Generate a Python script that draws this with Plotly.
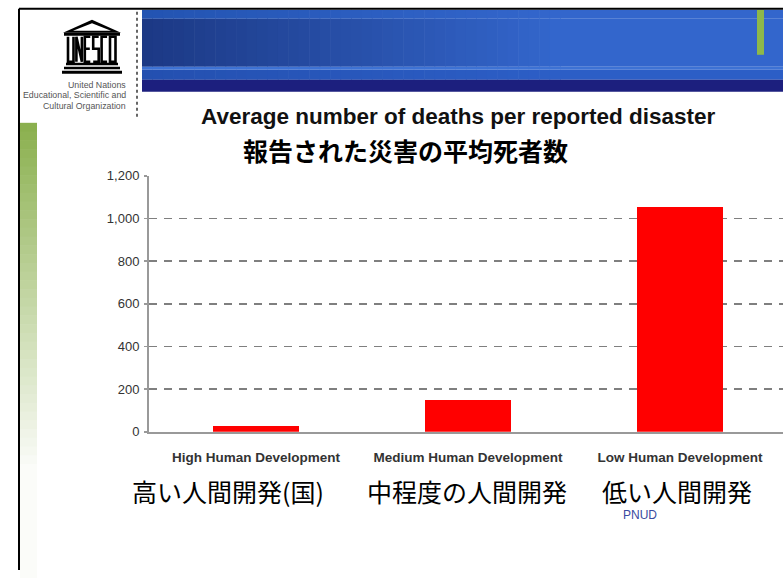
import plotly.graph_objects as go

W, H = 783, 578

# ---- data ----
categories_en = ["High Human Development", "Medium Human Development", "Low Human Development"]
categories_ja = ["高い人間開発(国)", "中程度の人間開発", "低い人間開発"]
avg_deaths = [28, 150, 1055]
y_ticks = [0, 200, 400, 600, 800, 1000, 1200]
title_en = "Average number of deaths per reported disaster"
title_ja = "報告された災害の平均死者数"
source_text = "PNUD"
org_lines = ["United Nations", "Educational, Scientific and", "Cultural Organization"]

# the photographed page appears as y_photo = SY * y_page + OY; place things in photo pixels
SY, OY = 0.974, 7.2


def X(px):
    return px / W


def Y(py):
    return 1 - ((py - OY) / SY) / H


def lerp_color(c1, c2, t):
    a = [int(c1[i:i + 2], 16) for i in (1, 3, 5)]
    b = [int(c2[i:i + 2], 16) for i in (1, 3, 5)]
    return "#%02x%02x%02x" % tuple(round(a[k] + (b[k] - a[k]) * t) for k in range(3))


shapes = []


def rect(x0, y0, x1, y1, color, layer="below"):
    shapes.append(dict(type="rect", xref="paper", yref="paper", x0=X(x0), x1=X(x1),
                       y0=Y(y1), y1=Y(y0), fillcolor=color, line=dict(width=0), layer=layer))


def hgrad(x0, x1, y0, y1, c1, c2, xend, n=40):
    step = (xend - x0) / n
    for i in range(n):
        rect(x0 + i * step, y0, x0 + (i + 1) * step + 0.6, y1, lerp_color(c1, c2, i / (n - 1)))
    rect(xend, y0, x1, y1, c2)


# banner
hgrad(142, W, 10, 19, "#2354b2", "#3366cc", 560)
hgrad(142, W, 19, 67, "#1c3985", "#3366cc", 560)
rect(142, 67, W, 70, "#3d72d4")
hgrad(142, W, 70, 80, "#2450b0", "#2c5ec6", 560)
rect(142, 80, W, 92, "#1c1f7e")
rect(757, 10, 764, 55, "#8db84a")

# green fading bar on the left
n = 40
for i in range(n):
    y0 = 123 + i * (350 / n)
    rect(20, y0, 37, y0 + 350 / n + 0.6, lerp_color("#8bb04f", "#fbfcf9", i / (n - 1)))
rect(20, 473, 37, 600, "#fbfcf9")

# black slide border
shapes.append(dict(type="line", xref="paper", yref="paper", x0=X(19), x1=X(W), y0=Y(9), y1=Y(9),
                   line=dict(color="black", width=2)))
shapes.append(dict(type="line", xref="paper", yref="paper", x0=X(19), x1=X(19), y0=Y(9), y1=0,
                   line=dict(color="black", width=2)))
# dotted separator
shapes.append(dict(type="line", xref="paper", yref="paper", x0=X(137), x1=X(137), y0=Y(12), y1=Y(120),
                   line=dict(color="#666666", width=2, dash="dot")))


# UNESCO temple logo
def path(d_pts, fill=None, stroke=None, w=0):
    d = ""
    for cmd, pts in d_pts:
        if cmd == "Z":
            d += " Z"
        else:
            d += " %s %.5f,%.5f" % (cmd, X(pts[0]), Y(pts[1]))
    s = dict(type="path", xref="paper", yref="paper", path=d.strip(), layer="above")
    if fill:
        s["fillcolor"] = fill
    s["line"] = dict(color=stroke or "rgba(0,0,0,0)", width=w)
    shapes.append(s)


path([("M", (63, 33)), ("L", (92, 20)), ("L", (121, 33)), ("Z", None)], fill="black")
path([("M", (73, 31)), ("L", (92, 23.5)), ("L", (111, 31)), ("Z", None)], fill="white")
rect(64, 33, 120, 36, "black", "above")
lx = 68
glyphs = [
    [("M", (0, 0)), ("L", (0, 25)), ("L", (5.5, 25)), ("L", (5.5, 0))],
    [("M", (0, 25)), ("L", (0, 0)), ("L", (5.5, 25)), ("L", (5.5, 0))],
    [("M", (5.5, 0)), ("L", (0, 0)), ("L", (0, 25)), ("L", (5.5, 25)), ("M", (0, 12)), ("L", (5, 12))],
    [("M", (5.5, 0)), ("L", (0, 0)), ("L", (0, 12)), ("L", (5.5, 12)), ("L", (5.5, 25)), ("L", (0, 25))],
    [("M", (5.5, 0)), ("L", (0, 0)), ("L", (0, 25)), ("L", (5.5, 25))],
    [("M", (0, 0)), ("L", (5.5, 0)), ("L", (5.5, 25)), ("L", (0, 25)), ("Z", None)],
]
for gi, g in enumerate(glyphs):
    ox = lx + gi * 8.4
    pts = [(c, (p[0] + ox, p[1] + 37) if p else None) for c, p in g]
    path(pts, stroke="black", w=2.6)
rect(66, 63, 118, 65.5, "black", "above")
rect(64, 67, 120, 69.5, "black", "above")
rect(62, 71, 122, 74, "black", "above")

fig = go.Figure()
fig.add_trace(go.Bar(
    x=list(range(len(categories_en))), y=avg_deaths, width=0.405,
    marker=dict(color="#ff0000", line=dict(width=0)), hoverinfo="skip",
))

annotations = []
for i, t in enumerate(org_lines):
    annotations.append(dict(text=t, xref="paper", yref="paper", x=X(128), y=Y(85 + i * 10.5),
                            xanchor="right", yanchor="middle", showarrow=False,
                            font=dict(family="Liberation Sans, Arial", size=8.8, color="#555555")))
annotations.append(dict(text="<b>" + title_en + "</b>", xref="paper", yref="paper", x=X(458), y=Y(117),
                        xanchor="center", yanchor="middle", showarrow=False,
                        font=dict(family="Liberation Sans, Arial", size=22.5, color="#111111")))
annotations.append(dict(text="<b>" + title_ja + "</b>", xref="paper", yref="paper", x=X(405), y=Y(150),
                        xanchor="center", yanchor="middle", showarrow=False,
                        font=dict(family="Noto Sans CJK JP", size=25, color="#000000")))
ja_shift = [-28, -1, -3]
for i, t in enumerate(categories_ja):
    annotations.append(dict(text=t, xref="x", yref="paper", x=i, xshift=ja_shift[i], y=Y(491),
                            xanchor="center", yanchor="middle", showarrow=False,
                            font=dict(family="Noto Sans CJK JP", size=25, color="#000000")))
annotations.append(dict(text=source_text, xref="x", yref="paper", x=2, xshift=-40, y=Y(515),
                        xanchor="center", yanchor="middle", showarrow=False,
                        font=dict(family="Liberation Sans, Arial", size=12, color="#3a4aa0")))

fig.update_layout(
    width=W, height=H, autosize=False,
    margin=dict(l=0, r=0, t=0, b=0),
    paper_bgcolor="white", plot_bgcolor="white",
    showlegend=False,
    shapes=shapes, annotations=annotations,
    bargap=0,
    xaxis=dict(
        domain=[X(149), 1], range=[-0.505, 2.486],
        tickmode="array", tickvals=list(range(len(categories_en))),
        ticktext=["<b>" + c + "</b>" for c in categories_en],
        tickfont=dict(family="Liberation Sans, Arial", size=13.5, color="#333333"),
        ticks="", ticklabelstandoff=11,
        showgrid=False, zeroline=False,
        showline=True, linecolor="#999999", linewidth=2.5,
        fixedrange=True,
    ),
    yaxis=dict(
        domain=[Y(432), Y(176)], range=[0, 1200],
        tickmode="array", tickvals=y_ticks, tickformat=",",
        tickfont=dict(family="Liberation Sans, Arial", size=13, color="#333333"),
        ticks="outside", ticklen=3, tickcolor="#999999", tickwidth=1.5, ticklabelstandoff=2,
        showgrid=True, gridcolor="#7f7f7f", gridwidth=1.5, griddash="8px,7px",
        zeroline=False,
        showline=True, linecolor="#999999", linewidth=2,
        fixedrange=True,
    ),
)

css_js = (
    "var s=document.createElement('style');"
    "s.textContent='html,body{margin:0;padding:0;overflow:hidden;width:783px;height:578px;}';"
    "document.head.appendChild(s);"
    "document.body.style.margin='0';"
)

fig.write_html("out.html", config={"displayModeBar": False, "staticPlot": True}, post_script=css_js)
